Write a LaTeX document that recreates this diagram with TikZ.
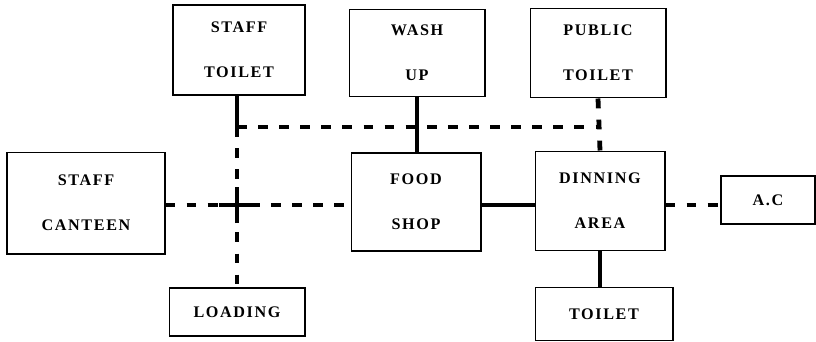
\documentclass[tikz,border=0pt]{standalone}
\usepackage{fontspec}
\setmainfont{Liberation Serif}
\usetikzlibrary{positioning}
\tikzset{
  room/.style={draw,line width=1.4pt,align=center,font=\bfseries\fontsize{11.5}{13}\selectfont\addfontfeature{LetterSpace=10},inner sep=0pt},
  solidlink/.style={line width=3.4pt},
  dashlink/.style={line width=3.4pt,dash pattern=on 7pt off 8pt}
}
\begin{document}
\begin{tikzpicture}[x=0.025cm,y=-0.025cm]
  \useasboundingbox (0,0) rectangle (816,342);
  % rooms
  \node[room,minimum width=3.3cm,minimum height=2.25cm] (stafftoilet) at (239,50) {STAFF\\[19pt]TOILET};
  \node[room,minimum width=3.375cm,minimum height=2.175cm] (washup) at (417,53) {WASH\\[19pt]UP};
  \node[room,minimum width=3.375cm,minimum height=2.225cm] (publictoilet) at (598,53) {PUBLIC\\[19pt]TOILET};
  \node[room,minimum width=3.925cm,minimum height=2.525cm] (canteen) at (86,203) {STAFF\\[19pt]CANTEEN};
  \node[room,minimum width=3.225cm,minimum height=2.45cm] (foodshop) at (416,202) {FOOD\\[19pt]SHOP};
  \node[room,minimum width=3.225cm,minimum height=2.475cm] (dinning) at (600,201) {DINNING\\[19pt]AREA};
  \node[room,minimum width=2.35cm,minimum height=1.2cm] (ac) at (768,200) {A.C};
  \node[room,minimum width=3.375cm,minimum height=1.2cm] (loading) at (237,312) {LOADING};
  \node[room,minimum width=3.425cm,minimum height=1.325cm] (toilet) at (604,314) {TOILET};
  % junctions
  \coordinate (topjoin) at (237,127);
  \coordinate (endjoin) at (600,127);
  \coordinate (cross) at (237,205);
  % links
  \draw[solidlink] (stafftoilet.south -| topjoin) -- (topjoin);
  \draw[dashlink] (topjoin) -- (endjoin);
  \draw[dashlink] (topjoin) -- (loading.north -| topjoin);
  \draw[solidlink] (washup.south) -- (foodshop.north -| washup.south);
  \draw[dashlink] (publictoilet.south) -- (dinning.north);
  \draw[dashlink] (canteen.east |- cross) -- (foodshop.west |- cross);
  \draw[solidlink] ([xshift=-0.45cm]cross) -- ([xshift=0.45cm]cross);
  \draw[solidlink] ([yshift=-0.45cm]cross) -- ([yshift=0.45cm]cross);
  \draw[solidlink] (foodshop.east |- cross) -- (dinning.west |- cross);
  \draw[dashlink] (dinning.east |- cross) -- (ac.west |- cross);
  \draw[solidlink] (dinning.south) -- (toilet.north -| dinning.south);
\end{tikzpicture}
\end{document}
